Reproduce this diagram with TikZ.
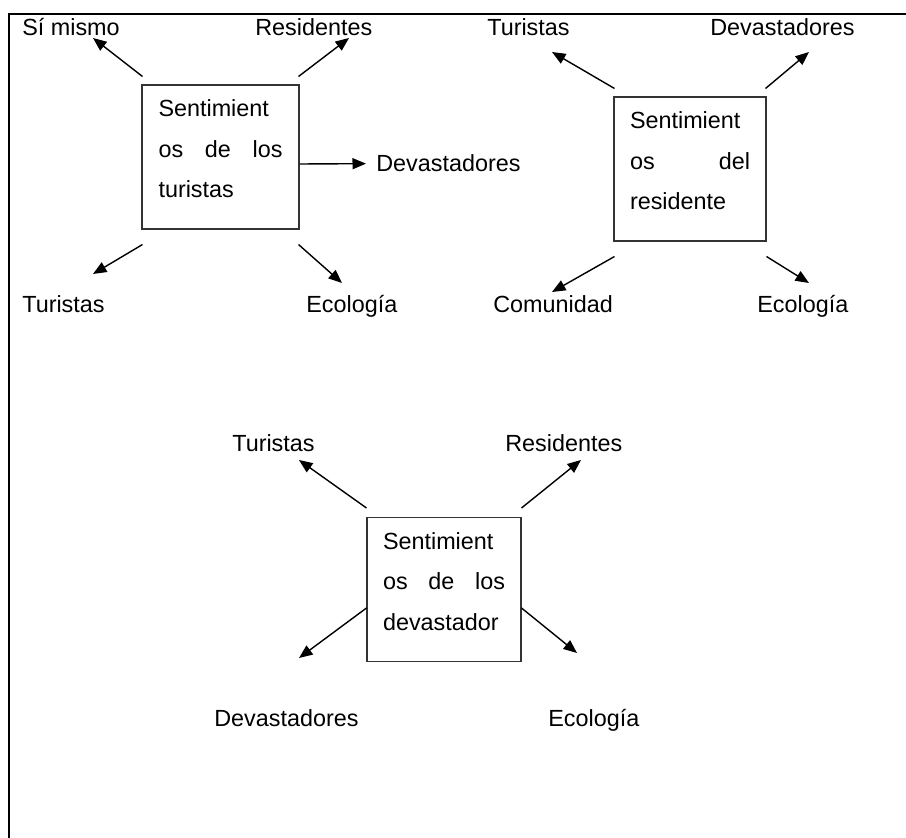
\documentclass[tikz,border=0pt]{standalone}
\usepackage{fontspec}
\setmainfont{Liberation Sans}
\usetikzlibrary{arrows.meta}
\usetikzlibrary{calc}
\tikzset{
  caja/.style={draw=black!80, line width=0.6pt, minimum height=2.88cm, inner xsep=0.32cm, inner ysep=0pt, align=left, font=\fontsize{13.3}{23}\selectfont},
  etiq/.style={inner sep=0pt, anchor=base west, font=\fontsize{13.3}{16}\selectfont},
  flechita/.style={line width=0.8pt, -{Triangle[length=0.27cm,width=0.22cm]}},
  marco/.style={line width=1.1pt}
}
\newcommand{\finlinea}{\rule[-9.5pt]{0pt}{9.5pt}}
\newcommand{\caja}[6]{\node[caja, minimum width=#4, text width=#5] (#1) at (#2,#3) {#6\finlinea};}
\newcommand{\etiqueta}[4]{\node[etiq] (#1) at (#2,#3) {#4};}
\newcommand{\punta}[3]{\coordinate (#1) at (#2,#3);}
\newcommand{\flecha}[2]{\draw[flechita] (#1) -- (#2);}

\begin{document}
\begin{tikzpicture}[x=0.02cm, y=-0.02cm]
\useasboundingbox (0,0) rectangle (906,838);
% frame
\draw[marco] (9,838) -- (9,14) -- (906,14);
% box 1: turistas
\caja{c1}{220.5}{157}{3.14cm}{2.48cm}{Sentimient\\ os\hfill de\hfill los\\ turistas}
\etiqueta{sm1}{22}{36}{Sí mismo}
\etiqueta{re1}{255}{36}{Residentes}
\etiqueta{dv1}{376}{172}{Devastadores}
\etiqueta{tu1}{22}{312}{Turistas}
\etiqueta{ec1}{306}{312}{Ecología}
\punta{p1a}{93}{38}
\punta{p1b}{349}{38}
\punta{p1c}{93}{274}
\punta{p1d}{342}{283}
\flecha{$(c1.north west)+(1,-8)$}{p1a}
\flecha{$(c1.north east)+(-1,-8)$}{p1b}
\flecha{$(c1.east)+(0,7)$}{$(dv1.west)+(-10,0)$}
\flecha{$(c1.south west)+(1,15)$}{p1c}
\flecha{$(c1.south east)+(-1,15)$}{p1d}
% box 2: residente
\caja{c2}{690}{169}{3.04cm}{2.40cm}{Sentimient\\ os\hfill del\\ residente}
\etiqueta{tu2}{487}{36}{Turistas}
\etiqueta{dv2}{710}{36}{Devastadores}
\etiqueta{co2}{493}{312}{Comunidad}
\etiqueta{ec2}{757}{312}{Ecología}
\punta{p2a}{552}{52}
\punta{p2b}{809}{52}
\punta{p2c}{552}{292}
\punta{p2d}{809}{283}
\flecha{$(c2.north west)+(1,-8)$}{p2a}
\flecha{$(c2.north east)+(-1,-8)$}{p2b}
\flecha{$(c2.south west)+(1,15)$}{p2c}
\flecha{$(c2.south east)+(0,15)$}{p2d}
% box 3: devastador
\caja{c3}{444}{589.5}{3.08cm}{2.44cm}{Sentimient\\ os\hfill de\hfill los\\ devastador}
\etiqueta{tu3}{232}{451}{Turistas}
\etiqueta{re3}{505}{451}{Residentes}
\etiqueta{dv3}{214}{726}{Devastadores}
\etiqueta{ec3}{548}{726}{Ecología}
\punta{p3a}{299}{460}
\punta{p3b}{581}{460}
\punta{p3c}{299}{658}
\punta{p3d}{577}{653}
\flecha{$(c3.north west)+(0,-9)$}{p3a}
\flecha{$(c3.north east)+(0,-9)$}{p3b}
\flecha{$(c3.west)+(0,18.5)$}{p3c}
\flecha{$(c3.east)+(0,18.5)$}{p3d}
\end{tikzpicture}
\end{document}
